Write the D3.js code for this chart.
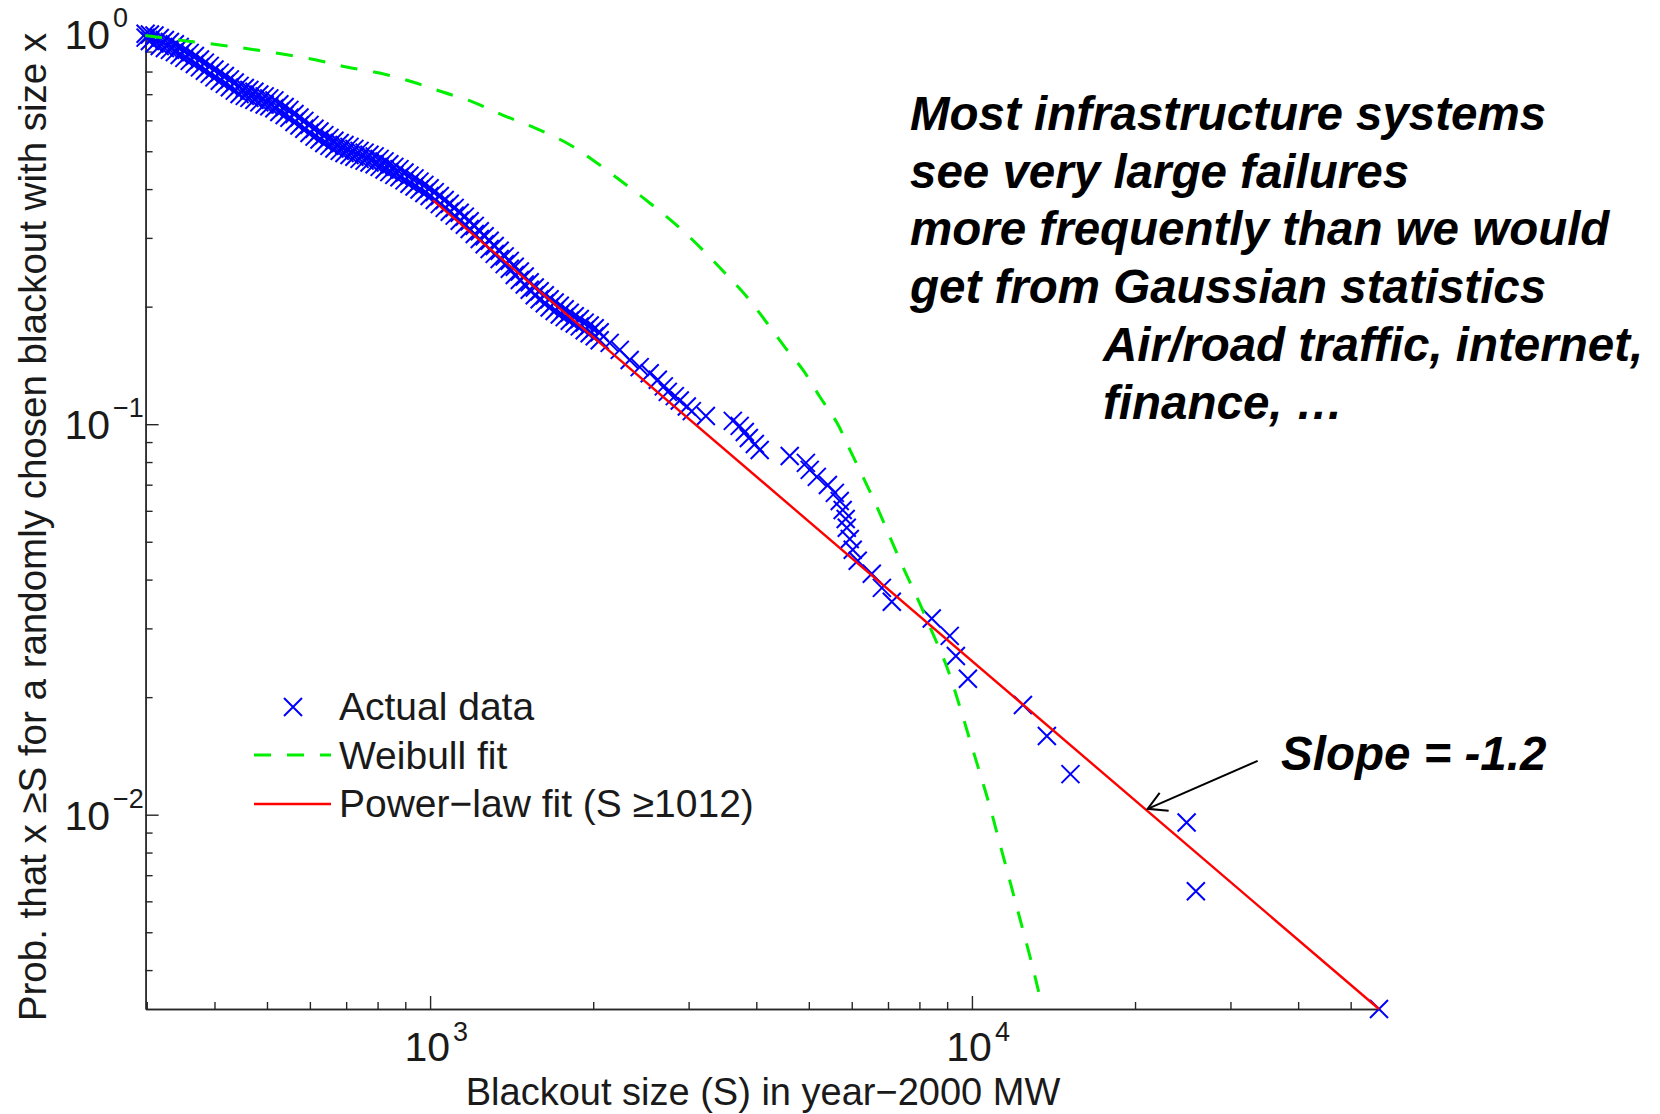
<!DOCTYPE html>
<html>
<head>
<meta charset="utf-8">
<script src="https://cdn.jsdelivr.net/npm/d3@7"></script>
<style>
  body { margin: 0; background: #fff; }
  svg { display: block; }
</style>
</head>
<body>
<script>

// Actual data, dense part: sizes (MW) with the upper and lower edge of each vertical run of crosses
var denseMW = [298.5, 304, 310, 317, 324, 331, 338, 345, 352, 360, 368, 376, 384, 392, 400, 409, 418, 427,
  436, 445, 455, 464, 474, 484, 495, 505, 516, 527, 539, 550, 562, 574, 586, 599, 612, 625, 638, 652, 666, 681,
  695, 710, 725, 741, 757, 773, 790, 807, 824, 841, 859, 878, 897, 916, 936, 956, 976, 998, 1020, 1042, 1064,
  1087, 1110, 1134, 1159, 1183, 1209, 1235, 1261, 1288, 1316, 1344, 1373, 1403, 1433, 1464, 1495, 1527, 1560,
  1593, 1628, 1662, 1698, 1735, 1772, 1810, 1849, 1889, 1929, 1970, 2013, 2056];
var denseProbUpper = [1.000, 0.995, 0.989, 0.975, 0.964, 0.952, 0.940, 0.925, 0.908, 0.893, 0.877, 0.859,
  0.843, 0.827, 0.810, 0.795, 0.779, 0.764, 0.750, 0.735, 0.726, 0.718, 0.710, 0.699, 0.691, 0.683, 0.675,
  0.660, 0.649, 0.638, 0.623, 0.610, 0.598, 0.584, 0.571, 0.562, 0.550, 0.541, 0.532, 0.525, 0.519, 0.513,
  0.507, 0.501, 0.496, 0.490, 0.485, 0.478, 0.471, 0.463, 0.456, 0.450, 0.441, 0.433, 0.426, 0.418, 0.410,
  0.402, 0.393, 0.384, 0.375, 0.367, 0.358, 0.348, 0.340, 0.331, 0.322, 0.312, 0.303, 0.295, 0.286, 0.278,
  0.269, 0.262, 0.253, 0.246, 0.239, 0.231, 0.224, 0.219, 0.214, 0.209, 0.205, 0.201, 0.197, 0.193, 0.189,
  0.186, 0.182, 0.179, 0.176, 0.172];
var denseProbLower = [0.977, 0.958, 0.944, 0.930, 0.919, 0.909, 0.897, 0.882, 0.867, 0.852, 0.836, 0.820,
  0.804, 0.789, 0.773, 0.758, 0.744, 0.729, 0.715, 0.701, 0.693, 0.685, 0.677, 0.667, 0.659, 0.652, 0.644,
  0.630, 0.619, 0.609, 0.594, 0.582, 0.571, 0.557, 0.545, 0.536, 0.525, 0.516, 0.508, 0.501, 0.495, 0.489,
  0.484, 0.478, 0.473, 0.468, 0.463, 0.456, 0.449, 0.442, 0.435, 0.429, 0.421, 0.413, 0.406, 0.399, 0.391,
  0.384, 0.375, 0.366, 0.358, 0.350, 0.342, 0.332, 0.324, 0.316, 0.307, 0.298, 0.289, 0.281, 0.273, 0.265,
  0.257, 0.250, 0.241, 0.234, 0.228, 0.221, 0.214, 0.209, 0.204, 0.199, 0.195, 0.191, 0.188, 0.184, 0.181,
  0.178, 0.174, 0.171, 0.168, 0.164];

// Actual data, sparse tail: sizes (MW) and Prob(size >= S)
var tailMW = [2145, 2239, 2335, 2437, 2543, 2632, 2700, 2746, 2829, 2889, 2977, 3041, 3228, 3620, 3727, 3809,
  3875, 3975, 4058, 4610, 4938, 5019, 5173, 5422, 5585, 5702, 5774, 5848, 5875, 5950, 6026, 6155, 6534, 6820,
  7114, 8430, 9100, 9340, 9830, 12420, 13750, 15200, 24900, 25900, 56400];
var tailProb = [0.1615, 0.155, 0.146, 0.140, 0.135, 0.130, 0.125, 0.121, 0.118, 0.115, 0.111, 0.108, 0.105,
  0.102, 0.099, 0.0955, 0.0922, 0.0890, 0.0859, 0.0829, 0.0796, 0.0764, 0.0733, 0.0699, 0.0667, 0.0636, 0.0603,
  0.0572, 0.0543, 0.0508, 0.0477, 0.0447, 0.0414, 0.0381, 0.0351, 0.0318, 0.0287, 0.0255, 0.0223, 0.0191,
  0.0159, 0.0127, 0.00955, 0.00637, 0.00318];

// Weibull fit curve
var weibullMW = [298, 355, 409, 464, 534, 617, 701, 807, 929, 1055, 1198, 1361, 1560, 1787, 1996, 2239, 2543,
  2889, 3213, 3528, 3845, 4186, 4556, 4877, 5243, 5636, 5955, 6294, 6680, 7058, 7458, 7914, 8361, 8989, 9500,
  9911, 10342, 10791, 11210, 11600, 12000, 12414, 12845, 13345];
var weibullProb = [0.99, 0.958, 0.936, 0.914, 0.887, 0.856, 0.822, 0.793, 0.752, 0.709, 0.669, 0.619, 0.574,
  0.525, 0.475, 0.422, 0.3686, 0.3181, 0.2761, 0.2411, 0.2118, 0.1816, 0.155, 0.1377, 0.1174, 0.1008, 0.0859,
  0.0733, 0.0614, 0.0514, 0.0431, 0.0361, 0.0303, 0.0239, 0.0189, 0.01555, 0.0128, 0.0105, 0.00862, 0.00723,
  0.00606, 0.00508, 0.00425, 0.00342];

// Power-law fit (S >= 1012), slope -1.2
var powerMW = [1012, 56400];
var powerProb = [0.375, 0.00318];

// Tick labels (base 10 with exponent)
var xTickVals = [1e3, 1e4];
var xTickExp = ["3", "4"];
var yTickVals = [1, 0.1, 0.01];
var yTickExp = ["0", "\u22121", "\u22122"];

var legendLabels = ["Actual data", "Weibull fit", "Power\u2212law fit (S \u22651012)"];
var noteLines = ["Most infrastructure systems", "see very large failures",
  "more frequently than we would", "get from Gaussian statistics"];
var noteLinesIndented = ["Air/road traffic, internet,", "finance, \u2026"];

var width = 1660, height = 1114;
var plot = {left: 145.6, right: 1379, top: 33.7, bottom: 1009};
var sansFont = "'Liberation Sans', Arial, Helvetica, sans-serif";
var axisColor = "#262626";

// all crosses as [size, prob]
var points = [];
denseMW.forEach(function(d, i) {
  points.push([d, denseProbUpper[i]]);
  points.push([d, denseProbLower[i]]);
});
tailMW.forEach(function(d, i) { points.push([d, tailProb[i]]); });

var svg = d3.select("body").append("svg")
    .attr("width", width)
    .attr("height", height)
    .style("font-family", sansFont);

// Scales: both log, tight to the data
var x = d3.scaleLog()
    .domain([d3.min(points, function(d) { return d[0]; }), d3.max(points, function(d) { return d[0]; })])
    .range([plot.left, plot.right]);
var y = d3.scaleLog()
    .domain([d3.min(points, function(d) { return d[1]; }), 1])
    .range([plot.bottom, plot.top]);

// Axes: inward ticks, minor ones shorter
var xMinor = x.ticks().filter(function(v) { return xTickVals.indexOf(v) < 0; });
var yMinor = y.ticks().filter(function(v) { return yTickVals.indexOf(v) < 0; });

function styleAxis(g) {
  g.selectAll("path, line").attr("stroke", axisColor).attr("stroke-width", 1.4);
}

svg.append("g")
    .attr("transform", "translate(0," + plot.bottom + ")")
    .call(d3.axisBottom(x).tickValues(xMinor).tickSize(-7).tickSizeOuter(0).tickFormat(""))
    .call(styleAxis);
svg.append("g")
    .attr("transform", "translate(0," + plot.bottom + ")")
    .call(d3.axisBottom(x).tickValues(xTickVals).tickSize(-13).tickSizeOuter(0).tickFormat(""))
    .call(styleAxis);
svg.append("g")
    .attr("transform", "translate(" + plot.left + ",0)")
    .call(d3.axisLeft(y).tickValues(yMinor).tickSize(-7).tickSizeOuter(0).tickFormat(""))
    .call(styleAxis);
svg.append("g")
    .attr("transform", "translate(" + plot.left + ",0)")
    .call(d3.axisLeft(y).tickValues(yTickVals).tickSize(-13).tickSizeOuter(0).tickFormat(""))
    .call(styleAxis);

// Tick labels 10^n
var tickLabels = svg.append("g").attr("fill", "#1a1a1a");
xTickVals.forEach(function(v, i) {
  tickLabels.append("text")
      .attr("x", x(v) + 20).attr("y", 1061)
      .attr("text-anchor", "end")
      .style("font-size", "41px")
      .text("10");
  tickLabels.append("text")
      .attr("x", x(v) + 23).attr("y", 1041)
      .style("font-size", "27px")
      .text(xTickExp[i]);
});
yTickVals.forEach(function(v, i) {
  tickLabels.append("text")
      .attr("x", 110).attr("y", y(v) + 15)
      .attr("text-anchor", "end")
      .style("font-size", "41px")
      .text("10");
  tickLabels.append("text")
      .attr("x", 113).attr("y", y(v) - 7)
      .style("font-size", "27px")
      .text(yTickExp[i]);
});

// Axis titles
svg.append("text")
    .attr("x", 763).attr("y", 1104.5)
    .attr("text-anchor", "middle")
    .attr("fill", "#1a1a1a")
    .style("font-size", "38px")
    .text("Blackout size (S) in year\u22122000 MW");
svg.append("text")
    .attr("transform", "translate(46,527) rotate(-90)")
    .attr("text-anchor", "middle")
    .attr("fill", "#1a1a1a")
    .style("font-size", "38.5px")
    .text("Prob. that x \u2265S for a randomly chosen blackout with size x");

// Data crosses
var cross = "M-9,-9L9,9M-9,9L9,-9";
svg.append("g")
  .selectAll("path")
    .data(points)
  .enter().append("path")
    .attr("d", cross)
    .attr("transform", function(d) { return "translate(" + x(d[0]) + "," + y(d[1]) + ")"; })
    .attr("fill", "none")
    .attr("stroke", "#0000ff")
    .attr("stroke-width", 2);

// Weibull fit
var weibullLine = d3.line()
    .curve(d3.curveCatmullRom.alpha(0.5))
    .x(function(d) { return x(d); })
    .y(function(d, i) { return y(weibullProb[i]); });
svg.append("path")
    .attr("d", weibullLine(weibullMW))
    .attr("fill", "none")
    .attr("stroke", "#00ee00")
    .attr("stroke-width", 3)
    .attr("stroke-dasharray", "17,16");

// Power-law fit
var powerLine = d3.line()
    .x(function(d) { return x(d); })
    .y(function(d, i) { return y(powerProb[i]); });
svg.append("path")
    .attr("d", powerLine(powerMW))
    .attr("fill", "none")
    .attr("stroke", "#ff0000")
    .attr("stroke-width", 2.4);

// Legend
var legend = svg.append("g").attr("transform", "translate(254,707)");
legend.append("path")
    .attr("d", cross)
    .attr("transform", "translate(39,0)")
    .attr("fill", "none").attr("stroke", "#0000ff").attr("stroke-width", 2);
legend.append("line")
    .attr("x1", 0).attr("x2", 77).attr("y1", 48).attr("y2", 48)
    .attr("stroke", "#00ee00").attr("stroke-width", 3).attr("stroke-dasharray", "17,16");
legend.append("line")
    .attr("x1", 0).attr("x2", 77).attr("y1", 97).attr("y2", 97)
    .attr("stroke", "#ff0000").attr("stroke-width", 2.4);
legend.selectAll("text")
    .data(legendLabels)
  .enter().append("text")
    .attr("x", 85)
    .attr("y", function(d, i) { return 13 + i * 48.5; })
    .attr("fill", "#1a1a1a")
    .style("font-size", "39px")
    .text(function(d) { return d; });

// Annotations
var notes = svg.append("g")
    .style("font-size", "47.5px")
    .style("font-weight", "bold")
    .style("font-style", "italic")
    .attr("fill", "#000");
notes.selectAll("text.main")
    .data(noteLines)
  .enter().append("text")
    .attr("class", "main")
    .attr("x", 910)
    .attr("y", function(d, i) { return 130 + i * 57.6; })
    .text(function(d) { return d; });
notes.selectAll("text.sub")
    .data(noteLinesIndented)
  .enter().append("text")
    .attr("class", "sub")
    .attr("x", 1103)
    .attr("y", function(d, i) { return 361 + i * 57.6; })
    .text(function(d) { return d; });
notes.append("text")
    .attr("x", 1281).attr("y", 770)
    .text("Slope = -1.2");

// Arrow pointing at the power-law line
var tipX = x(21100), tipY = y(0.01035);
svg.append("line")
    .attr("x1", tipX + 110).attr("y1", tipY - 48)
    .attr("x2", tipX).attr("y2", tipY)
    .attr("stroke", "#000").attr("stroke-width", 2);
svg.append("path")
    .attr("d", "M" + (tipX + 12) + "," + (tipY - 16) + "L" + tipX + "," + tipY + "L" + (tipX + 21) + "," + (tipY + 2))
    .attr("fill", "none").attr("stroke", "#000").attr("stroke-width", 2);

</script>
</body>
</html>
